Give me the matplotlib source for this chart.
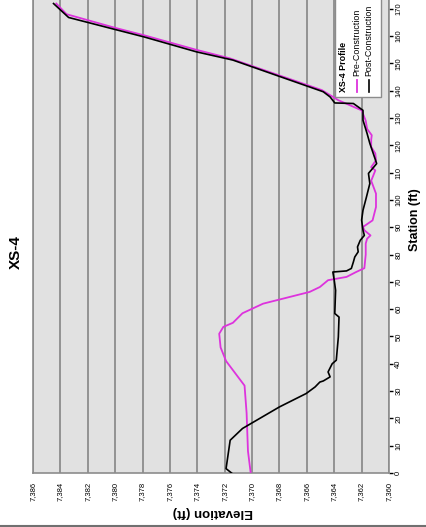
import matplotlib
matplotlib.use("Agg")
import matplotlib.pyplot as plt
from matplotlib.patches import Rectangle
from matplotlib.lines import Line2D

plt.rcParams['font.family'] = ['Liberation Sans', 'DejaVu Sans']

# data ---------------------------
pre_station = [0, 8, 22, 32, 41, 46, 51, 53.5, 55, 58.5, 62, 66.3, 68.1, 70.6,
               71.8, 73.6, 75, 80, 84, 85.8, 87, 88.9, 90.1, 92.5, 97.4, 102.3,
               107, 110.8, 112, 114.5, 117, 119.4, 122, 123.7, 126, 129, 132.8,
               136.5, 140.2, 151.8, 155, 160.3, 163, 168, 171.9]
pre_elev = [7370.1, 7370.3, 7370.4, 7370.55, 7371.9, 7372.3, 7372.4, 7372.1,
            7371.4, 7370.7, 7369.2, 7365.8, 7365.05, 7364.45, 7363.1, 7362.4,
            7361.8, 7361.7, 7361.7, 7361.6, 7361.35, 7361.8, 7361.9, 7361.2,
            7360.95, 7360.95, 7361.3, 7361.0, 7361.3, 7360.95, 7361.0, 7361.3,
            7361.3, 7361.26, 7361.6, 7361.7, 7362.0, 7363.7, 7364.9, 7371.6,
            7374.1, 7377.9, 7380.0, 7383.55, 7384.3]

post_station = [0, 1.6, 12, 16.3, 24.2, 29.1, 31.5, 33.3, 33.7, 35.2, 37, 40,
                41.3, 49.8, 57.1, 58.4, 66.9, 70.6, 73.6, 74.0, 74.9, 77.3,
                79.1, 81, 82.8, 85.2, 87, 88.9, 92.6, 96.2, 101, 106, 109.7,
                113.3, 117, 120.7, 124.3, 129.2, 132.8, 135.3, 135.5, 137.7,
                139.6, 151.2, 154.2, 159.7, 162.4, 166.8, 171.9]
post_elev = [7371.5, 7371.9, 7371.6, 7370.7, 7368.0, 7366.05, 7365.4, 7365.05,
             7364.8, 7364.3, 7364.45, 7364.15, 7363.85, 7363.7, 7363.65,
             7363.96, 7363.9, 7364.0, 7364.1, 7363.1, 7362.75, 7362.6, 7362.5,
             7362.25, 7362.3, 7362.1, 7361.8, 7361.9, 7362.0, 7361.9, 7361.65,
             7361.4, 7361.5, 7360.9, 7361.15, 7361.4, 7361.6, 7361.9, 7361.9,
             7362.6, 7363.96, 7364.3, 7364.8, 7371.4, 7374.05, 7377.9, 7380.0,
             7383.4, 7384.5]

elev_ticks = list(range(7360, 7387, 2))
station_ticks = list(range(0, 171, 10))

# styles -------------------------
magenta = '#dd33dd'
gridGray = '#8c8c8c'
tickSize = 5.5
W, H = 426, 527

fig = plt.figure(figsize=(W / 100, H / 100), dpi=100)
ax = fig.add_axes([33 / W, 54 / H, 356 / W, 473 / H])
ax.set_facecolor('#e1e1e1')

ax.plot(pre_elev, pre_station, color=magenta, lw=1.3, zorder=3)
ax.plot(post_elev, post_station, color='black', lw=1.2, zorder=4)

ax.set_xlim(7386, 7360)
ax.set_ylim(0, 173.2)

ax.set_xticks(elev_ticks)
ax.set_xticklabels(['{:,}'.format(v) for v in elev_ticks], rotation=90,
                   fontsize=tickSize)
ax.tick_params(axis='x', length=0, pad=6.5)

ax.yaxis.tick_right()
ax.set_yticks(station_ticks)
ax.set_yticklabels([str(v) for v in station_ticks], rotation=90,
                   fontsize=tickSize, va='center')
ax.tick_params(axis='y', length=3, width=1, color='black', pad=1.5)

ax.grid(axis='x', color=gridGray, lw=1.3)
ax.set_axisbelow(True)
for side in ['left', 'bottom', 'right']:
    ax.spines[side].set_color(gridGray)
    ax.spines[side].set_linewidth(1.2)
ax.spines['top'].set_visible(False)

# legend (rotated, drawn by hand)
def ax_x(px):
    return (px - 33) / 356.0

def ax_y(py):
    return (473 - py) / 473.0

ax.add_patch(Rectangle((ax_x(335), ax_y(97)), ax_x(381) - ax_x(335),
                       ax_y(0) - ax_y(97) + 0.01, transform=ax.transAxes,
                       facecolor='white', edgecolor=gridGray, lw=1.0,
                       zorder=6, clip_on=False))
ax.text(ax_x(343), ax_y(92), 'XS-4 Profile', transform=ax.transAxes,
        rotation=90, ha='center', va='bottom', fontsize=6.4,
        fontweight='bold', zorder=7)
ax.plot([ax_x(357), ax_x(357)], [ax_y(92), ax_y(80)], transform=ax.transAxes,
        color=magenta, lw=1.3, zorder=7)
ax.text(ax_x(357), ax_y(76), 'Pre-Construction', transform=ax.transAxes,
        rotation=90, ha='center', va='bottom', fontsize=6.4, zorder=7)
ax.plot([ax_x(369), ax_x(369)], [ax_y(92), ax_y(80)], transform=ax.transAxes,
        color='black', lw=1.2, zorder=7)
ax.text(ax_x(369), ax_y(76), 'Post-Construction', transform=ax.transAxes,
        rotation=90, ha='center', va='bottom', fontsize=6.4, zorder=7)

# titles
fig.text(16 / W, 1 - 252 / H, 'XS-4', rotation=90, ha='center', va='center',
         fontsize=11, fontweight='bold')
fig.text(415 / W, 1 - 220 / H, 'Station (ft)', rotation=90, ha='center',
         va='center', fontsize=9, fontweight='bold')
fig.text(213 / W, 1 - 512 / H, 'Elevation (ft)', rotation=180, ha='center',
         va='center', fontsize=9.5, fontweight='bold')

fig.add_artist(Line2D([0, 1], [1.2 / H, 1.2 / H], transform=fig.transFigure,
                      color='#707070', lw=1.5))

fig.savefig('out.png', dpi=100)
